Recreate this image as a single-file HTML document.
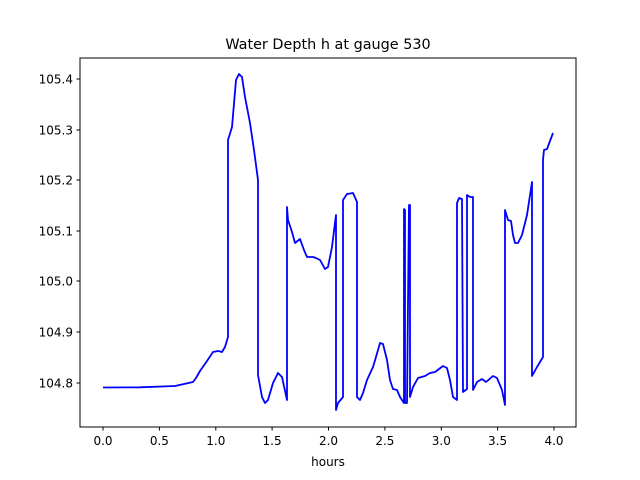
<!DOCTYPE html>
<html><head><meta charset="utf-8"><style>
html,body{margin:0;padding:0;background:#fff}
svg{display:block}
text{font-family:"DejaVu Sans","Liberation Sans",sans-serif;font-size:12px;fill:#000}
</style></head><body>
<svg width="640" height="480" viewBox="0 0 640 480" xmlns="http://www.w3.org/2000/svg">
<rect width="640" height="480" fill="#fff"/>
<text x="328" y="49" text-anchor="middle" style="font-size:14.4px">Water Depth h at gauge 530</text>
<rect x="80" y="58" width="496" height="369" fill="none" stroke="#000" stroke-width="1"/>
<g stroke="#000" stroke-width="1">
<line x1="103" y1="427" x2="103" y2="430.5"/>
<line x1="159.4" y1="427" x2="159.4" y2="430.5"/>
<line x1="215.8" y1="427" x2="215.8" y2="430.5"/>
<line x1="272.1" y1="427" x2="272.1" y2="430.5"/>
<line x1="328.5" y1="427" x2="328.5" y2="430.5"/>
<line x1="384.9" y1="427" x2="384.9" y2="430.5"/>
<line x1="441.3" y1="427" x2="441.3" y2="430.5"/>
<line x1="497.6" y1="427" x2="497.6" y2="430.5"/>
<line x1="554" y1="427" x2="554" y2="430.5"/>
<line x1="76.5" y1="79" x2="80" y2="79"/>
<line x1="76.5" y1="130" x2="80" y2="130"/>
<line x1="76.5" y1="180" x2="80" y2="180"/>
<line x1="76.5" y1="231" x2="80" y2="231"/>
<line x1="76.5" y1="281" x2="80" y2="281"/>
<line x1="76.5" y1="332" x2="80" y2="332"/>
<line x1="76.5" y1="383" x2="80" y2="383"/>
</g>
<g text-anchor="middle">
<text x="103" y="445">0.0</text><text x="159.4" y="445">0.5</text><text x="215.8" y="445">1.0</text>
<text x="272.1" y="445">1.5</text><text x="328.5" y="445">2.0</text><text x="384.9" y="445">2.5</text>
<text x="441.3" y="445">3.0</text><text x="497.6" y="445">3.5</text><text x="554" y="445">4.0</text>
<text x="328" y="466">hours</text>
</g>
<g text-anchor="end">
<text x="73" y="83.5">105.4</text><text x="73" y="134.5">105.3</text><text x="73" y="184.5">105.2</text>
<text x="73" y="235.5">105.1</text><text x="73" y="285.5">105.0</text><text x="73" y="336.5">104.9</text>
<text x="73" y="387.5">104.8</text>
</g>
<polyline fill="none" stroke="#0000ff" stroke-width="1.8" stroke-linejoin="round" points="
103,387.5 140,387.3 175,386 193,382 196,378 200,371 207,361 213,352 218,351 222,352 225,347 228,337 228,140 232,127 236,80 239,74 242,77 245,97 250,123 254,150 258,180 258,375 262,397 265,403 268,400 273,383 278,373 282,377 287,400 287,207 288,220 292,232 295,243 300,239 304,250 307,257 313,257 316,258 320,260 325,269 328,267 332,247 336,215 336,410 338,403 343,397 343,200 347,194 353,193 357,202 357,397 360,400 363,393 367,380 373,367 376,357 380,343 383,344 387,360 390,380 393,389 397,390 400,397 404,403 404,209 405,210 405,403 407,403 409,205 410,205 410,397 413,387 418,378 425,376 430,373 435,372 443,366 447,368 450,380 453,397 457,400 457,203 459,198 462,199 463,392 467,389 467,195 470,197 471,197 473,197 473,390 477,382 482,379 486,382 493,376 497,378 502,390 505,405 505,210 508,220 511,221 513,235 515,243 518,243 522,235 527,215 532,182 532,376 537,367 543,357 543,160 544,150 547,149 553,133"/>
</svg>
</body></html>
